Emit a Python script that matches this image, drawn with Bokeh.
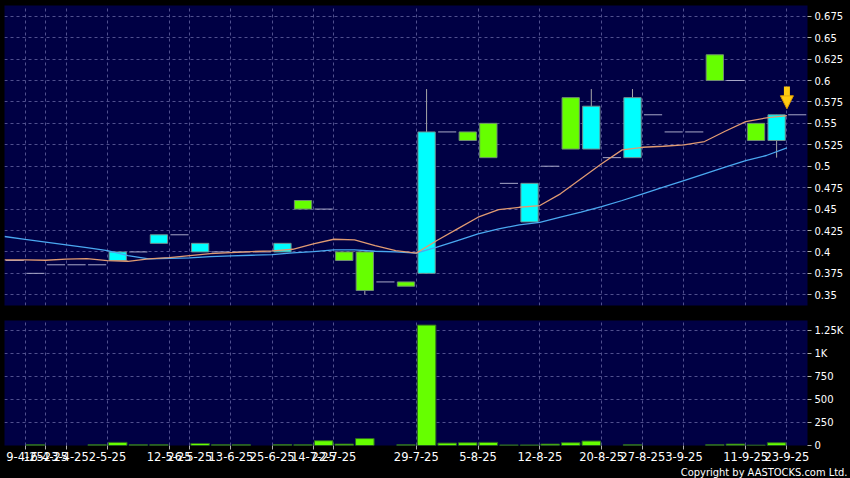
from bokeh.plotting import figure
from bokeh.layouts import column
from bokeh.models import FixedTicker, Range1d, Title, Arrow, NormalHead
from bokeh.embed import file_html
from bokeh.resources import INLINE

# ---- data (one slot per trading day shown on the chart) ----
opens  = [0.39, 0.375, 0.385, 0.385, 0.385, 0.39, 0.40, 0.41, 0.42, 0.40,
          0.40, 0.40, 0.40, 0.40, 0.46, 0.45, 0.40, 0.40, 0.365, 0.365,
          0.375, 0.54, 0.54, 0.55, 0.48, 0.435, 0.50, 0.58, 0.52, 0.51,
          0.51, 0.56, 0.54, 0.54, 0.63, 0.60, 0.55, 0.53, 0.56]
highs  = [0.39, 0.375, 0.385, 0.385, 0.385, 0.40, 0.40, 0.42, 0.42, 0.41,
          0.40, 0.40, 0.40, 0.41, 0.46, 0.45, 0.40, 0.40, 0.365, 0.365,
          0.59, 0.54, 0.54, 0.55, 0.48, 0.48, 0.50, 0.58, 0.59, 0.51,
          0.59, 0.56, 0.54, 0.54, 0.63, 0.60, 0.55, 0.56, 0.56]
lows   = [0.39, 0.375, 0.385, 0.385, 0.385, 0.39, 0.40, 0.41, 0.42, 0.40,
          0.40, 0.40, 0.40, 0.40, 0.45, 0.45, 0.39, 0.35, 0.365, 0.36,
          0.375, 0.54, 0.53, 0.51, 0.48, 0.435, 0.50, 0.52, 0.52, 0.51,
          0.51, 0.56, 0.54, 0.54, 0.60, 0.60, 0.53, 0.51, 0.56]
closes = [0.39, 0.375, 0.385, 0.385, 0.385, 0.40, 0.40, 0.42, 0.42, 0.41,
          0.40, 0.40, 0.40, 0.41, 0.45, 0.45, 0.39, 0.355, 0.365, 0.36,
          0.54, 0.54, 0.53, 0.51, 0.48, 0.48, 0.50, 0.52, 0.57, 0.51,
          0.58, 0.56, 0.54, 0.54, 0.60, 0.60, 0.53, 0.56, 0.56]
volume = [0, 8, 0, 0, 8, 34, 8, 8, 0, 22,
          8, 8, 0, 10, 8, 52, 15, 75, 0, 8,
          1310, 26, 30, 34, 6, 6, 15, 30, 48, 0,
          8, 0, 0, 0, 8, 15, 4, 30, 0]
ma_short = [0.3907, 0.3907, 0.3903, 0.3915, 0.3923, 0.3899, 0.3891, 0.3919, 0.3934, 0.3958,
            0.3981, 0.3993, 0.4004, 0.4013, 0.4031, 0.4094, 0.4148, 0.4141, 0.4074, 0.4016,
            0.3986, 0.4133, 0.4269, 0.4405, 0.4494, 0.4521, 0.4541, 0.4678, 0.4853, 0.5028,
            0.5191, 0.5221, 0.5233, 0.5249, 0.5288, 0.5408, 0.5521, 0.5564, 0.5591]
ma_long = [0.4180, 0.4147, 0.4115, 0.4082, 0.4049, 0.4016, 0.3958, 0.3919, 0.3926, 0.3931,
           0.3945, 0.3954, 0.3961, 0.3969, 0.3989, 0.4004, 0.4024, 0.4024, 0.4008, 0.4001,
           0.3986, 0.4055, 0.4133, 0.4211, 0.4269, 0.4316, 0.4346, 0.4405, 0.4463, 0.4529,
           0.4600, 0.4678, 0.4755, 0.4833, 0.4911, 0.4988, 0.5066, 0.5125, 0.5214]

tick_idx = [1, 2, 3, 5, 8, 9, 11, 13, 15, 16, 20, 23, 26, 29, 31, 33, 36, 38]
tick_labels = ["9-4-25", "16-4-25", "23-4-25", "2-5-25", "12-5-25", "26-5-25", "13-6-25",
               "25-6-25", "14-7-25", "22-7-25", "29-7-25", "5-8-25", "12-8-25", "20-8-25",
               "27-8-25", "3-9-25", "11-9-25", "23-9-25"]
price_ticks = [0.35, 0.375, 0.4, 0.425, 0.45, 0.475, 0.5, 0.525, 0.55, 0.575, 0.6, 0.625, 0.65, 0.675]
price_tick_labels = ["0.35", "0.375", "0.4", "0.425", "0.45", "0.475", "0.5", "0.525",
                     "0.55", "0.575", "0.6", "0.625", "0.65", "0.675"]
vol_ticks = [0, 250, 500, 750, 1000, 1250]
vol_tick_labels = ["0", "250", "500", "750", "1K", "1.25K"]

# ---- styling ----
BG = "#000044"
BORDER = "#000000"
GRID = "#50508e"
UP = "#00ffff"
DOWN = "#66ff00"
W = 850

n = len(closes)
slot = list(range(n))
cx = [i + 0.5 for i in slot]  # candles drawn in the middle of each day slot

up_i = [i for i in slot if closes[i] > opens[i]]
dn_i = [i for i in slot if closes[i] < opens[i]]
dj_i = [i for i in slot if closes[i] == opens[i]]
wk_i = [i for i in slot if highs[i] > max(opens[i], closes[i]) or lows[i] < min(opens[i], closes[i])]


def style_common(p):
    p.background_fill_color = BG
    p.border_fill_color = BORDER
    p.outline_line_color = None
    p.xgrid.ticker = FixedTicker(ticks=tick_idx)
    for g in (p.xgrid, p.ygrid):
        g.grid_line_color = GRID
        g.grid_line_dash = "3 3"
        g.grid_line_width = 1
    ax = p.yaxis[0]
    ax.axis_line_color = None
    ax.major_tick_line_color = "#b0b0b0"
    ax.major_tick_out = 4
    ax.major_tick_in = 0
    ax.minor_tick_line_color = None
    ax.major_label_text_color = "#ffffff"
    ax.major_label_text_font = "DejaVu Sans"
    ax.major_label_text_font_size = "10px"
    ax.major_label_standoff = 3


p1 = figure(width=W, height=320, x_range=Range1d(0, n), y_range=Range1d(0.3375, 0.6875),
            x_axis_location=None, y_axis_location="right",
            min_border_left=4, min_border_right=43, min_border_top=5, min_border_bottom=15,
            toolbar_location=None, output_backend="svg")
style_common(p1)
p1.yaxis.ticker = FixedTicker(ticks=price_ticks)
p1.yaxis.major_label_overrides = {t: l for t, l in zip(price_ticks, price_tick_labels)}
p1.ygrid.ticker = FixedTicker(ticks=price_ticks)

# wicks
p1.segment(x0=[cx[i] for i in wk_i], y0=[lows[i] for i in wk_i],
           x1=[cx[i] for i in wk_i], y1=[highs[i] for i in wk_i],
           line_color="#a8a8a8", line_width=1)
# doji / single-price days
p1.segment(x0=[cx[i] - 0.44 for i in dj_i], y0=[closes[i] for i in dj_i],
           x1=[cx[i] + 0.44 for i in dj_i], y1=[closes[i] for i in dj_i],
           line_color="#a8a8c8", line_width=1)
# bodies
p1.vbar(x=[cx[i] for i in up_i], width=0.84, top=[closes[i] for i in up_i],
        bottom=[opens[i] for i in up_i], fill_color=UP, line_color="#6f8f8f", line_width=1)
p1.vbar(x=[cx[i] for i in dn_i], width=0.84, top=[opens[i] for i in dn_i],
        bottom=[closes[i] for i in dn_i], fill_color=DOWN, line_color="#6f8f6f", line_width=1)
# moving averages
p1.line(slot, ma_long, line_color="#4aa8f0", line_width=1.3)
p1.line(slot, ma_short, line_color="#e09a72", line_width=1.3)

# latest-day marker arrow
last = n - 1
tip = highs[last] + 0.007
p1.add_layout(Arrow(x_start=last, y_start=tip + 0.026, x_end=last, y_end=tip,
                    line_color="#ffcc11", line_width=6,
                    end=NormalHead(size=13, fill_color="#ffcc11", line_color="#e09a00", line_width=1)))

# ---- volume panel ----
p2 = figure(width=W, height=158, x_range=p1.x_range, y_range=Range1d(0, 1360),
            y_axis_location="right",
            min_border_left=4, min_border_right=43, min_border_top=0, min_border_bottom=0,
            toolbar_location=None, output_backend="svg")
style_common(p2)
p2.yaxis.ticker = FixedTicker(ticks=vol_ticks)
p2.yaxis.major_label_overrides = {t: l for t, l in zip(vol_ticks, vol_tick_labels)}
p2.ygrid.ticker = FixedTicker(ticks=vol_ticks)

xa = p2.xaxis[0]
xa.ticker = FixedTicker(ticks=tick_idx)
xa.major_label_overrides = {t: l for t, l in zip(tick_idx, tick_labels)}
xa.axis_line_color = None
xa.major_tick_line_color = "#b0b0b0"
xa.major_tick_out = 4
xa.major_tick_in = 0
xa.minor_tick_line_color = None
xa.major_label_text_color = "#ffffff"
xa.major_label_text_font = "DejaVu Sans"
xa.major_label_text_font_size = "11.5px"
xa.major_label_standoff = 2

vi = [i for i in slot if volume[i] > 0]
p2.vbar(x=[cx[i] for i in vi], width=0.9, top=[volume[i] for i in vi], bottom=0,
        fill_color=DOWN, line_color="#2f6a22", line_width=1)

p2.add_layout(Title(text="Copyright by AASTOCKS.com Ltd.", align="right",
                    text_color="#ffffff", text_font="DejaVu Sans Condensed",
                    text_font_size="11px", text_font_style="normal",
                    standoff=0, offset=-40), "below")

layout = column(p1, p2, spacing=0, background="#000000")
html = file_html(layout, INLINE)
html = html.replace("</head>", "<style>html, body {background-color: #000000;}</style></head>", 1)
open("out.html", "w").write(html)
